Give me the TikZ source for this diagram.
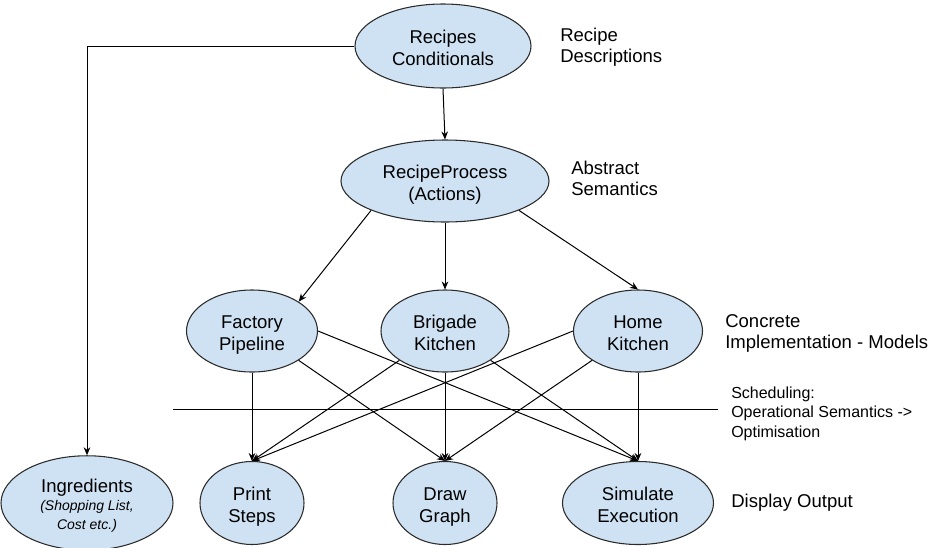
\documentclass[tikz,border=0pt]{standalone}
\usepackage{fontspec}
\setmainfont{Liberation Sans}
\usetikzlibrary{shapes.geometric,arrows.meta}
\definecolor{nodefill}{HTML}{CFE2F3}
\definecolor{nodeline}{HTML}{2B2B2B}
\newcommand{\toppad}{\rule{0pt}{17.3pt}}
\newcommand{\botpad}{\rule[-4.9pt]{0pt}{4.9pt}}
\tikzset{
  blob/.style={ellipse,draw=nodeline,fill=nodefill,line width=0.8pt,inner sep=0pt,align=center,
    font=\fontsize{13.9}{16.2}\selectfont},
  lbl/.style={anchor=west,align=left,inner sep=0pt,font=\fontsize{13.9}{15.75}\selectfont},
  smalllbl/.style={anchor=west,align=left,inner sep=0pt,font=\fontsize{12}{14.6}\selectfont},
  conn/.style={line width=0.75pt,-{Stealth[length=6pt,width=5pt]}},
}
\begin{document}
\begin{tikzpicture}[x=0.75pt,y=-0.75pt]
\useasboundingbox (0,0) rectangle (929,547);
% nodes
\node[blob,minimum width=132pt,minimum height=63pt] (rec) at (443,46) {\toppad Recipes\\Conditionals\botpad};
\node[blob,minimum width=156pt,minimum height=61.5pt] (rp) at (445,181) {\toppad RecipeProcess\\(Actions)\botpad};
\node[blob,minimum width=98.25pt,minimum height=61.5pt] (fac) at (252,331) {\toppad Factory\\Pipeline\botpad};
\node[blob,minimum width=96pt,minimum height=61.5pt] (bri) at (445,331) {\toppad Brigade\\Kitchen\botpad};
\node[blob,minimum width=96.75pt,minimum height=61.5pt] (hom) at (638,331) {\toppad Home\\Kitchen\botpad};
\node[blob,minimum width=129pt,minimum height=62.25pt] (ing) at (87,503) {\toppad Ingredients\\[-2.5pt]{\fontsize{10.5}{13.5}\selectfont\itshape (Shopping List,}\\[-2pt]{\fontsize{10.5}{13.5}\selectfont\itshape Cost etc.)}\botpad};
\node[blob,minimum width=78pt,minimum height=62.25pt] (prt) at (252,503) {\toppad Print\\Steps\botpad};
\node[blob,minimum width=78pt,minimum height=62.25pt] (drw) at (445,503) {\toppad Draw\\Graph\botpad};
\node[blob,minimum width=113.25pt,minimum height=62.25pt] (sim) at (638,503) {\toppad Simulate\\Execution\botpad};
% side labels
\node[lbl] (l1) at (560,47.5) {Recipe\\Descriptions};
\node[lbl] (l2) at (571,178) {Abstract\\Semantics};
\node[lbl] (l3) at (725,333) {Concrete\\Implementation - Models};
\node[smalllbl] (l4) at (731,413.5) {Scheduling:\\Operational Semantics ->\\Optimisation};
\node[lbl] (l5) at (731,503) {Display Output};
% horizontal separator
\coordinate (hl) at (173,409);
\coordinate (hr) at (718,409);
\draw[line width=0.75pt] (hl) -- (hr);
% connectors
\draw[conn] (rec.south) -- (rp.north);
\draw[conn] (rec.west) -| (ing.north);
\draw[conn] (rp.south west) -- (fac.north east);
\draw[conn] (rp.south) -- (bri.north);
\draw[conn] (rp.south east) -- (hom.north);
\draw[conn] (fac.south) -- (prt.north);
\draw[conn] (fac.south east) -- (drw.north);
\draw[conn] (fac.east) -- (sim.north);
\draw[conn] (bri.south west) -- (prt.north);
\draw[conn] (bri.south) -- (drw.north);
\draw[conn] (bri.south east) -- (sim.north);
\draw[conn] (hom.west) -- (prt.north);
\draw[conn] (hom.south west) -- (drw.north);
\draw[conn] (hom.south) -- (sim.north);
\end{tikzpicture}
\end{document}
